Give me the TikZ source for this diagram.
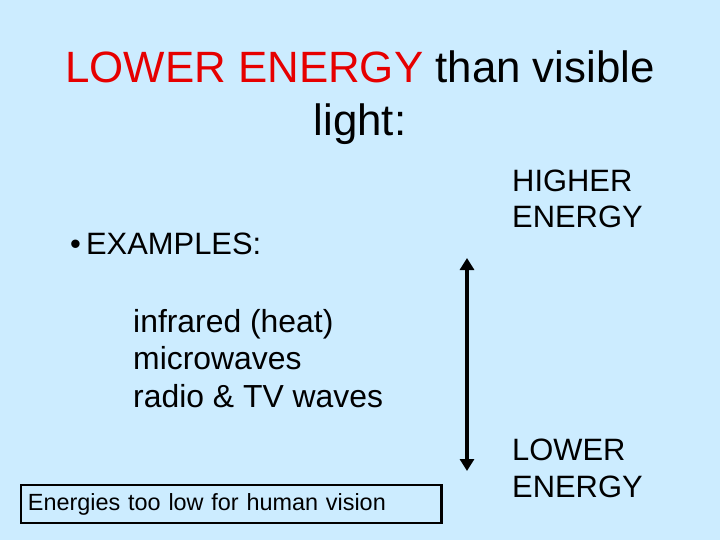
\documentclass[tikz,border=0pt]{standalone}
\usepackage{fontspec}
\setmainfont{Liberation Sans}
\usetikzlibrary{arrows.meta}
\definecolor{bg}{RGB}{204,236,255}
\definecolor{tred}{RGB}{230,0,0}
\begin{document}
\begin{tikzpicture}[x=1bp,y=-1bp,
  txt/.style={inner sep=0pt,anchor=base west,align=left}]
\fill[bg] (0,0) rectangle (720,540);
\useasboundingbox (0,0) rectangle (720,540);
\node[inner sep=0pt,anchor=base,align=center,font=\fontsize{44}{54}\selectfont] (title) at (360,136)
  {\textcolor{tred}{LOWER ENERGY} than visible\\light:};
\node[txt,font=\fontsize{31}{30}\selectfont] (ex) at (70,255) {•\,EXAMPLES:};
\node[txt,font=\fontsize{32}{37.5}\selectfont] (list) at (133,407) {infrared (heat)\\microwaves\\radio \& TV waves};
\node[txt,font=\fontsize{31}{37}\selectfont] (hi) at (512,228) {HIGHER\\ENERGY};
\node[txt,font=\fontsize{31}{37}\selectfont] (lo) at (512,497) {LOWER\\ENERGY};
\coordinate (top) at (467,258);
\coordinate (bot) at (467,471);
\draw[line width=4pt,{Triangle[length=12bp,width=14bp]}-{Triangle[length=12bp,width=14bp]}] (top) -- (bot);
\node[draw,line width=3pt,minimum width=420bp,minimum height=38bp,inner xsep=7bp,inner ysep=0pt,text width=406bp,align=left,anchor=north west,font=\fontsize{23.5}{26}\selectfont] (box) at (19.5,483.5) {Energies too low for human vision};
\end{tikzpicture}
\end{document}
